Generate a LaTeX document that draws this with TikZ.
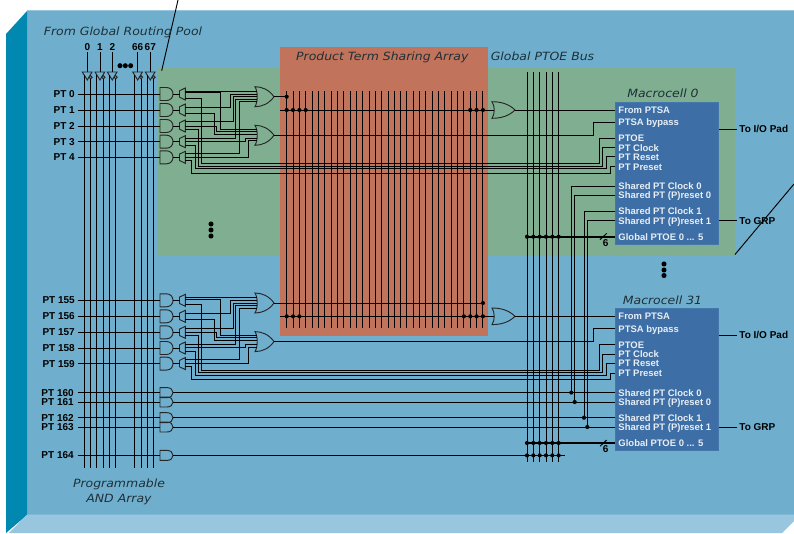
\documentclass[tikz,border=0pt]{standalone}
\usepackage{fontspec}
\setmainfont{Liberation Sans}
\newfontfamily\titlefont[FakeStretch=1.1]{DejaVu Sans}
\definecolor{mainblue}{HTML}{6FAFCD}
\definecolor{sideblue}{HTML}{0088B0}
\definecolor{floorblue}{HTML}{98C6DF}
\definecolor{areagreen}{HTML}{7FAF90}
\definecolor{areared}{HTML}{C1745B}
\definecolor{cellblue}{HTML}{3D6EA5}
\definecolor{celltext}{HTML}{E8EEF5}
\definecolor{titletext}{HTML}{1E3038}
\newcommand{\gltext}{Global PTOE 0 ... 5}
\tikzset{
  w/.style={draw=black,line width=0.72pt},
  gateline/.style={draw=black!85,line width=0.7pt},
  busw/.style={draw=black,line width=1.6pt},
  rowlab/.style={font=\fontsize{7.5pt}{8pt}\selectfont\bfseries,anchor=east,inner xsep=2pt,inner ysep=0pt,text height=5.3pt,text depth=0pt},
  toplab/.style={font=\fontsize{7.5pt}{8pt}\selectfont\bfseries,inner xsep=0pt,inner ysep=1.5pt,text height=5.3pt,text depth=0pt},
  outlab/.style={font=\fontsize{7.5pt}{8pt}\selectfont\bfseries,anchor=west,inner xsep=2pt,inner ysep=0pt,text height=5.3pt,text depth=0pt},
  mcpin/.style={font=\fontsize{7.1pt}{8pt}\selectfont\bfseries,text=celltext,anchor=west,inner xsep=2.4pt,inner ysep=0pt,text height=5.1pt,text depth=0pt},
  areatitle/.style={font=\titlefont\itshape\fontsize{8.5pt}{9.6pt}\selectfont,text=titletext,inner sep=0pt,align=center},
  cellbox/.style={fill=cellblue,draw=cellblue!85!mainblue,line width=0.5pt,minimum width=77.5pt,inner sep=0pt},
  andg/.pic={\draw[gateline] (0,-6.5) -- (6.5,-6.5) .. controls (10.5,-6.5) and (13,-3.5) .. (13,0) .. controls (13,3.5) and (10.5,6.5) .. (6.5,6.5) -- (0,6.5) -- cycle;
    \coordinate (-in) at (0,0); \coordinate (-out) at (13,0);},
  andh/.pic={\draw[gateline] (0,-5) -- (7,-5) .. controls (10.5,-5) and (13,-3) .. (13,0) .. controls (13,3) and (10.5,5) .. (7,5) -- (0,5) -- cycle;
    \coordinate (-in) at (0,0); \coordinate (-out) at (13,0);},
  splitg/.pic={\draw[gateline] (6.3,-6) -- (0.5,-3.2) -- (0.5,3.2) -- (6.3,6) -- cycle;
    \coordinate (-in) at (0.5,0);},
  org/.pic={\draw[gateline] (0,-10) .. controls (7,-10) and (14,-7) .. (19,0) .. controls (14,7) and (7,10) .. (0,10) .. controls (3,5) and (3,-5) .. (0,-10) -- cycle;
    \coordinate (-out) at (19,0);},
  orh/.pic={\draw[gateline] (0,-8.3) .. controls (9,-8.3) and (17,-6) .. (23,0) .. controls (17,6) and (9,8.3) .. (0,8.3) .. controls (3,4) and (3,-4) .. (0,-8.3) -- cycle;
    \coordinate (-in) at (2.2,0); \coordinate (-out) at (23,0);},
  bufg/.pic={\draw[gateline] (-5,0) -- (4.7,0) -- (0,8) -- cycle;
    \draw[gateline] (3.3,5.2) circle[radius=1.2pt];
    \coordinate (-top) at (0,0); \coordinate (-q) at (-3.2,3); \coordinate (-n) at (3.3,6.8);}
}
\newcommand{\hvh}[3]{\draw[w] (#1) -- (#1 -| #2) -- (#2 |- #3) -- (#3);}
\newcommand{\ctrl}[5]{\draw[w] (#1) -- (#1 -| #2) -- (#2 |- #3) -- (#3 -| #4) -- (#4 |- #5) -- (#5);}
\newcommand{\gdot}[1]{\fill (#1) circle[radius=1.55pt];}
\newcommand{\ptblock}[7]{%
 \begin{scope}[shift={(0,#2)}]
  \foreach \i/\y/\t in {0/94/#3,1/110/#4,2/126/#5,3/141.7/#6,4/157.3/#7}{
    \node[rowlab] (#1l\i) at (77.7,\y) {\t};
    \pic (#1a\i) at (160,\y) {andg};
    \pic (#1s\i) at (179,\y) {splitg};
    \draw[w] (#1l\i.east) -- (#1a\i-in);
    \draw[w] (#1a\i-out) -- (#1s\i-in);
  }
  \pic (#1or1) at (255,96.7) {org};
  \pic (#1or2) at (255,135.3) {org};
  \foreach \n/\y in {0a/91,0b/92.7,0c/98,1a/107.3,1b/113.3,2a/121.7,2b/126,2c/129.3,3a/138.3,3b/141,3c/145,4a/153.3,4b/157.3,4c/160}{
    \coordinate (#1o\n) at (185.3,\y);
  }
  \foreach \n/\y in {a/91,b/94,c/96.7,d/99,e/101.7,f/129,g/131.5,h/134,i/138.3,j/140.7}{
    \coordinate (#1in\n) at (257.3,\y);
  }
  \coordinate (#1h0) at (0,163.7);
  \coordinate (#1h1) at (0,166);
  \coordinate (#1h2) at (0,168.7);
  \coordinate (#1h3) at (0,173.3);
  % into the first OR
  \draw[w] (#1o0a) -- (#1ina);
  \hvh{#1o1a}{vb}{#1inb}
  \hvh{#1o2a}{vc}{#1inc}
  \hvh{#1o3a}{vd}{#1ind}
  \hvh{#1o4a}{ve}{#1ine}
  % into the second OR
  \hvh{#1o0b}{vf}{#1inf}
  \hvh{#1o2b}{vg}{#1ing}
  \hvh{#1o1b}{vh}{#1inh}
  \hvh{#1o3b}{vi}{#1ini}
  \hvh{#1o4b}{vj}{#1inj}
 \end{scope}
}
\begin{document}
\begin{tikzpicture}[x=0.75pt,y=-0.75pt]
\useasboundingbox (0,0) rectangle (794,533);
\fill[white] (0,0) rectangle (794,533);
% cabinet
\fill[mainblue] (27,11) rectangle (794,515);
\fill[floorblue] (27,10) rectangle (794,11.2);
\fill[sideblue] (6,34) -- (27,11) -- (27,515) -- (6,533) -- cycle;
\fill[floorblue] (27,514.5) -- (794,514.5) -- (794,521) -- (782,533) -- (9,533) -- cycle;
% areas
\fill[areagreen] (158,68) rectangle (735,255.5);
\fill[areared] (280,47) rectangle (488,335.5);
% coordinates of the riser columns
\foreach \n/\x in {vb/230,vc/233.3,vd/235.7,ve/239.3,vf/220,vg/216.7,vh/214,vi/245.7,vj/248.7,
  vk/201,vl/198,vm/195,vn/191.7,wa/599.3,wb/602.7,wc/606,wd/610,wy/593,
  sa/571.3,sb/574.7,sc/584,sd/587.3}{
  \coordinate (\n) at (\x,0);
}
\coordinate (arrayend) at (0,468);
\coordinate (ptsatop) at (0,91);
\coordinate (ptsabot) at (0,328.3);
\coordinate (gbtop) at (0,72);
\coordinate (gbbot) at (0,461.7);
% macrocell boxes
\node[cellbox,minimum height=106.5pt,anchor=north west] (mca) at (615,102) {};
\node[cellbox,minimum height=106.5pt,anchor=north west] (mcb) at (615,308) {};
\foreach \p/\n/\y/\t in {
  ma/fr/110/From PTSA, ma/by/122/PTSA bypass, ma/oe/138.3/PTOE, ma/ck/147.7/PT Clock,
  ma/rs/156.7/PT Reset, ma/ps/166.7/PT Preset, ma/c0/186/Shared PT Clock 0,
  ma/r0/195/Shared PT (P)reset 0, ma/c1/211.3/Shared PT Clock 1,
  ma/r1/220.7/Shared PT (P)reset 1, ma/gl/236.7/\gltext,
  mb/fr/316.3/From PTSA, mb/by/328.6/PTSA bypass, mb/oe/344.6/PTOE, mb/ck/354/PT Clock,
  mb/rs/363/PT Reset, mb/ps/373/PT Preset, mb/c0/392.6/Shared PT Clock 0,
  mb/r0/402/Shared PT (P)reset 0, mb/c1/417.7/Shared PT Clock 1,
  mb/r1/427/Shared PT (P)reset 1, mb/gl/443/\gltext}{
  \node[mcpin] (\p\n) at (615,\y) {\t};
}
% inputs and their buffers
\foreach \b/\x/\t in {a/87.3/0,b/100/1,c/112.3/2,d/137.7/66,e/150.3/67}{
  \node[toplab] (num\b) at (\x,46.5) {\t};
  \pic (buf\b) at (\x,72) {bufg};
  \draw[w] (num\b.south) -- (buf\b-top);
  \draw[w] (buf\b-q) -- (buf\b-q |- arrayend);
  \draw[w] (buf\b-n) -- (buf\b-n |- arrayend);
}
\foreach \x in {120,125.3,130.7}{\fill (\x,65.7) circle[radius=1.9pt];}
% product term blocks
\ptblock{t}{0}{PT 0}{PT 1}{PT 2}{PT 3}{PT 4}
\ptblock{u}{206.3}{PT 155}{PT 156}{PT 157}{PT 158}{PT 159}
% control wires to the macrocells
\ctrl{to0c}{vk}{th0}{wa}{maoe.west}
\ctrl{to2c}{vl}{th1}{wb}{mack.west}
\ctrl{to3c}{vm}{th2}{wc}{mars.west}
\ctrl{to4c}{vn}{th3}{wd}{maps.west}
\ctrl{uo0c}{vk}{uh0}{wa}{mboe.west}
\ctrl{uo2c}{vl}{uh1}{wb}{mbck.west}
\ctrl{uo3c}{vm}{uh2}{wc}{mbrs.west}
\ctrl{uo4c}{vn}{uh3}{wd}{mbps.west}
% PTSA
\foreach \k in {0,...,31}{
  \coordinate (pv\k) at ({286.7+6.33*\k},0);
  \draw[w] (pv\k |- ptsatop) -- (pv\k |- ptsabot);
}
% OR3 gates and the sharing lines
\pic (ora) at (492,110) {orh};
\pic (orb) at (492,316.3) {orh};
\coordinate (shla) at (280,110);
\coordinate (shlb) at (280,316.3);
\draw[w] (shla) -- (ora-in);
\draw[w] (shlb) -- (orb-in);
\draw[w] (ora-out) -- (mafr.west);
\draw[w] (orb-out) -- (mbfr.west);
\draw[w] (tor1-out) -- (pv0 |- tor1-out);
\gdot{pv0 |- tor1-out}
\draw[w] (uor1-out) -- (pv31 |- uor1-out);
\gdot{pv31 |- uor1-out}
\foreach \k in {0,1,2,3,29,30,31}{\gdot{pv\k |- shla}}
\foreach \k in {0,1,2,28,29,30,31}{\gdot{pv\k |- shlb}}
% bypass
\hvh{tor2-out}{wy}{maby.west}
\hvh{uor2-out}{wy}{mbby.west}
% extra product terms
\foreach \n/\y/\t/\p in {0/392.6/PT 160/c0,1/402/PT 161/r0,2/417.7/PT 162/c1,3/427/PT 163/r1}{
  \node[rowlab,inner xsep=2.8pt] (xl\n) at (77.7,\y) {\t};
  \pic (xa\n) at (160,\y) {andh};
  \draw[w] (xl\n.east) -- (xa\n-in);
  \draw[w] (xa\n-out) -- (mb\p.west);
}
\node[rowlab,inner xsep=2.8pt] (xl4) at (77.7,455.4) {PT 164};
\pic (xa4) at (160,455.4) {andh};
\draw[w] (xl4.east) -- (xa4-in);
\coordinate (xend) at (565,455.4);
\draw[w] (xa4-out) -- (xend);
% shared risers
\foreach \v/\p in {sa/c0,sb/r0,sc/c1,sd/r1}{
  \draw[w] (ma\p.west) -- (ma\p.west -| \v) -- (\v |- mb\p.west);
  \gdot{\v |- mb\p.west}
}
% global PTOE bus
\foreach \k/\x in {0/527,1/533.3,2/539.7,3/546,4/552.3,5/558.7}{
  \coordinate (gb\k) at (\x,0);
  \draw[w] (gb\k |- gbtop) -- (gb\k |- gbbot);
}
\coordinate (busa) at (525.5,236.7);
\coordinate (busb) at (525.5,443);
\draw[busw] (busa) -- (magl.west);
\draw[busw] (busb) -- (mbgl.west);
\foreach \k in {0,...,5}{
  \gdot{gb\k |- busa}
  \gdot{gb\k |- busb}
  \gdot{gb\k |- xend}
}
% bus width marks
\coordinate (sla) at (600,239.6); \coordinate (slb) at (606.7,233.4);
\coordinate (slc) at (600,446.2); \coordinate (sld) at (606.7,440);
\draw[w] (sla) -- (slb);
\draw[w] (slc) -- (sld);
\node[toplab,inner ysep=0pt] (wa6) at (605.7,242.6) {6};
\node[toplab,inner ysep=0pt] (wb6) at (605.7,449.2) {6};
% outputs
\node[outlab] (ioa) at (736.5,129) {To I/O Pad};
\node[outlab] (ioa2) at (736.5,220.7) {To GRP};
\node[outlab] (iob) at (736.5,335.3) {To I/O Pad};
\node[outlab] (iob2) at (736.5,427) {To GRP};
\draw[w] (mca.east |- ioa) -- (ioa.west);
\draw[w] (mca.east |- ioa2) -- (ioa2.west);
\draw[w] (mcb.east |- iob) -- (iob.west);
\draw[w] (mcb.east |- iob2) -- (iob2.west);
% call-out lines
\coordinate (cla) at (178,0); \coordinate (clb) at (161.7,70.7);
\coordinate (clc) at (794,184); \coordinate (cld) at (735,254.5);
\draw[line width=0.7pt] (cla) -- (clb);
\draw[line width=0.7pt] (clc) -- (cld);
% ellipsis dots
\foreach \y in {224,230,236}{\fill (211,\y) circle[radius=1.9pt];}
\foreach \y in {264,270,275.5}{\fill (664,\y) circle[radius=1.9pt];}
% titles
\node[areatitle] (ttl1) at (123,32) {From Global Routing Pool};
\node[areatitle] (ttl2) at (382.3,57) {Product Term Sharing Array};
\node[areatitle] (ttl3) at (542.5,56) {Global PTOE Bus};
\node[areatitle] (ttl4) at (663,93) {Macrocell 0};
\node[areatitle] (ttl5) at (662.5,300.5) {Macrocell 31};
\node[areatitle] (ttl6) at (119,491.5) {Programmable\\[1.6pt]AND Array};
\end{tikzpicture}
\end{document}
